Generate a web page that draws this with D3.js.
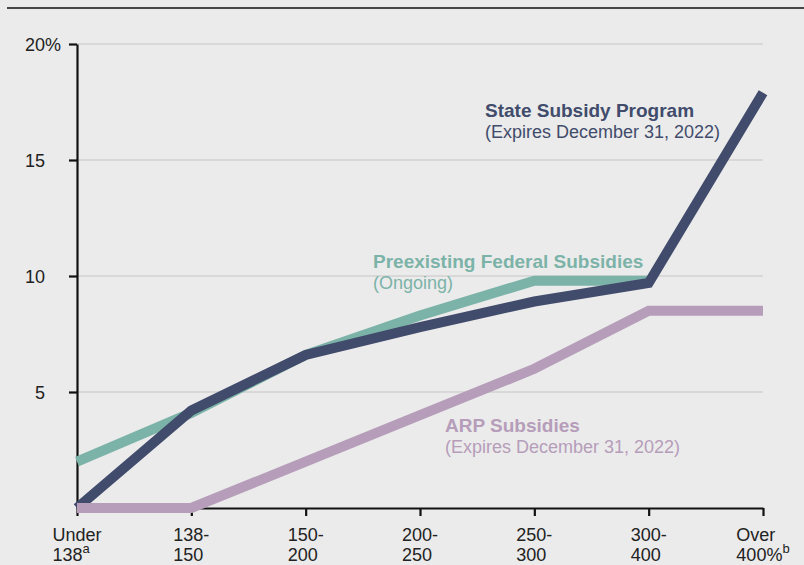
<!DOCTYPE html>
<html>
<head>
<meta charset="utf-8">
<script src="https://cdn.jsdelivr.net/npm/d3@7/dist/d3.min.js"></script>
<style>
  html, body { margin: 0; padding: 0; background: #ebebeb; }
  svg { display: block; font-family: "Liberation Sans", Arial, Helvetica, sans-serif; }
</style>
</head>
<body>
<svg id="chart" width="804" height="565"></svg>
<script>
// ---- Data ----
const categories = ["Under 138", "138-150", "150-200", "200-250", "250-300", "300-400", "Over 400"];
const catLine1 = ["Under", "138-", "150-", "200-", "250-", "300-", "Over"];
const catLine2 = ["138", "150", "200", "250", "300", "400", "400%"];
const catSup = ["a", "", "", "", "", "", "b"];
const stateSubsidy = [0, 4.2, 6.6, 7.8, 8.9, 9.7, 17.9];
const federalSubsidy = [2.0, 4.1, 6.6, 8.3, 9.8, 9.8, null];
const arpSubsidy = [0, 0, 2.0, 4.0, 6.0, 8.5, 8.5];
const yTicks = [5, 10, 15, 20];

const colors = { state: "#414b6b", federal: "#7cb3a8", arp: "#b69dba" };

const svg = d3.select("#chart");
const mLeft = 77, mRight = 763, mTop = 44, mBottom = 508;

const x = d3.scalePoint().domain(categories).range([mLeft, mRight]);
const y = d3.scaleLinear().domain([0, 20]).range([mBottom, mTop]);

// top rule
svg.append("line").attr("x1", 7).attr("x2", 804).attr("y1", 8).attr("y2", 8)
  .attr("stroke", "#111").attr("stroke-width", 1.3);

// gridlines
svg.append("g").selectAll("line").data(yTicks).join("line")
  .attr("x1", mLeft).attr("x2", mRight)
  .attr("y1", d => y(d)).attr("y2", d => y(d))
  .attr("stroke", "#d2d2d2").attr("stroke-width", 1.5);

// y axis
const yAxis = svg.append("g").attr("transform", `translate(${mLeft},0)`)
  .call(d3.axisLeft(y).tickValues(yTicks).tickSize(8).tickSizeOuter(0).tickFormat(d => d));
yAxis.select(".domain").attr("stroke", "#111").attr("stroke-width", 2.2);
yAxis.selectAll(".tick line").attr("stroke", "#111").attr("stroke-width", 2.2);
yAxis.selectAll(".tick text").attr("font-size", 18).attr("fill", "#222")
  .attr("font-family", "'Liberation Sans', Arial, sans-serif")
  .attr("x", -32).attr("text-anchor", "end").attr("dy", "0.36em");
yAxis.selectAll(".tick").filter(d => d === 20).append("text")
  .attr("x", -32).attr("dy", "0.36em").attr("text-anchor", "start")
  .attr("font-size", 18).attr("fill", "#222")
  .attr("font-family", "'Liberation Sans', Arial, sans-serif").text("%");

// x axis
const xAxis = svg.append("g").attr("transform", `translate(0,${mBottom})`)
  .call(d3.axisBottom(x).tickSize(8).tickSizeOuter(0).tickFormat(""));
xAxis.select(".domain").attr("stroke", "#111").attr("stroke-width", 2.2);
xAxis.selectAll(".tick line").attr("stroke", "#111").attr("stroke-width", 2.2);

// x labels (left-aligned block centered on tick)
categories.forEach((c, i) => {
  const g = svg.append("g");
  const t = g.append("text").attr("font-size", 18).attr("fill", "#222");
  t.append("tspan").attr("x", 0).attr("y", 541).text(catLine1[i]);
  t.append("tspan").attr("x", 0).attr("y", 561).text(catLine2[i]);
  if (catSup[i]) {
    t.append("tspan").attr("dy", -8).attr("font-size", 13).text(catSup[i]);
  }
  const w = t.node().getBBox().width;
  g.attr("transform", `translate(${x(c) - w / 2},0)`);
});

// lines
const line = d3.line()
  .defined(d => d.v !== null)
  .x(d => x(d.c)).y(d => y(d.v));
function drawSeries(vals, color) {
  const data = categories.map((c, i) => ({ c, v: vals[i] }));
  svg.append("path").datum(data)
    .attr("d", line).attr("fill", "none")
    .attr("stroke", color).attr("stroke-width", 10)
    .attr("stroke-linejoin", "miter").attr("stroke-linecap", "butt");
}
drawSeries(federalSubsidy, colors.federal);
drawSeries(stateSubsidy, colors.state);
drawSeries(arpSubsidy, colors.arp);

// annotations
function label(xp, yp, title, sub, color) {
  const t = svg.append("text").attr("fill", color);
  t.append("tspan").attr("x", xp).attr("y", yp).attr("font-weight", "bold").attr("font-size", 19).text(title);
  t.append("tspan").attr("x", xp).attr("y", yp + 21).attr("font-size", 18).text(sub);
}
label(485, 117, "State Subsidy Program", "(Expires December 31, 2022)", colors.state);
label(373, 268, "Preexisting Federal Subsidies", "(Ongoing)", colors.federal);
label(445, 432, "ARP Subsidies", "(Expires December 31, 2022)", colors.arp);
</script>
</body>
</html>
